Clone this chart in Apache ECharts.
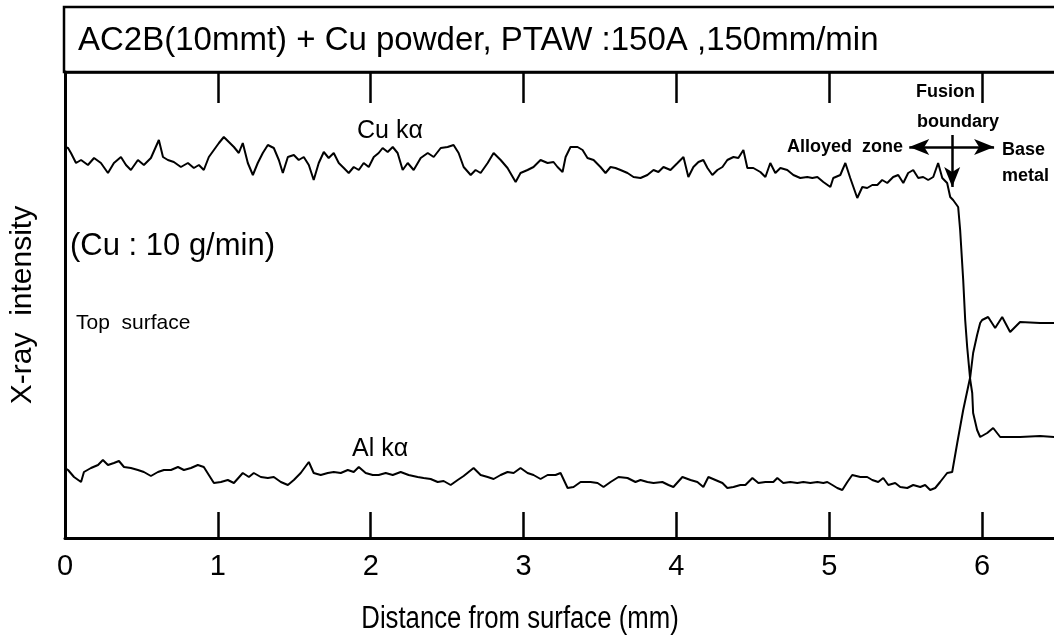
<!DOCTYPE html>
<html>
<head>
<meta charset="utf-8">
<style>
  html, body { margin: 0; padding: 0; background: #fff; }
  #chart { width: 1054px; height: 642px; }
</style>
<script src="https://cdn.jsdelivr.net/npm/echarts@6/dist/echarts.min.js"></script>
</head>
<body>
<div id="chart"></div>
<script>
// ---- data (distance in mm, X-ray intensity in arbitrary units) ----
const xTicks = [0, 1, 2, 3, 4, 5, 6];
const xMax = 6.47;
const yMax = 466;

const cuKa = [
  [0,391],[0.020,390],[0.039,385],[0.072,375],[0.105,378],[0.150,373],[0.190,380],[0.235,375],[0.281,365],[0.320,375],
  [0.366,381],[0.399,373],[0.431,368],[0.477,378],[0.516,373],[0.562,380],[0.614,398],[0.641,381],[0.673,378],[0.712,376],
  [0.758,371],[0.804,375],[0.843,370],[0.876,373],[0.908,368],[0.941,381],[0.974,388],[1.007,395],[1.039,401],[1.072,396],
  [1.105,391],[1.137,385],[1.163,395],[1.196,375],[1.229,363],[1.261,375],[1.294,385],[1.327,393],[1.366,390],[1.399,378],
  [1.425,365],[1.458,381],[1.497,383],[1.529,378],[1.562,381],[1.595,373],[1.627,358],[1.660,375],[1.693,386],[1.725,380],
  [1.758,385],[1.791,375],[1.824,370],[1.856,365],[1.889,371],[1.922,368],[1.954,375],[1.987,371],[2.020,381],[2.052,385],
  [2.078,390],[2.111,386],[2.144,391],[2.176,385],[2.209,368],[2.242,375],[2.281,368],[2.327,380],[2.373,385],[2.412,381],
  [2.458,390],[2.503,391],[2.542,393],[2.575,385],[2.608,371],[2.654,363],[2.686,368],[2.719,365],[2.765,375],[2.804,385],
  [2.850,378],[2.895,370],[2.948,356],[2.980,365],[3.026,368],[3.065,371],[3.111,378],[3.157,375],[3.196,376],[3.222,371],
  [3.255,366],[3.275,381],[3.307,391],[3.353,391],[3.386,388],[3.418,380],[3.458,378],[3.503,371],[3.536,365],[3.569,371],
  [3.601,370],[3.634,368],[3.680,365],[3.719,361],[3.765,360],[3.810,363],[3.850,368],[3.882,366],[3.915,371],[3.961,368],
  [4.007,375],[4.046,381],[4.078,361],[4.111,371],[4.144,376],[4.176,378],[4.203,370],[4.235,363],[4.268,368],[4.301,371],
  [4.333,378],[4.373,381],[4.405,380],[4.438,388],[4.464,370],[4.503,370],[4.549,366],[4.582,361],[4.614,375],[4.647,365],
  [4.680,370],[4.725,368],[4.765,363],[4.810,360],[4.856,361],[4.889,360],[4.922,361],[4.961,356],[5.007,351],[5.026,360],
  [5.072,363],[5.105,375],[5.137,360],[5.183,340],[5.216,351],[5.248,350],[5.281,353],[5.314,353],[5.346,358],[5.379,355],
  [5.418,361],[5.451,363],[5.484,355],[5.516,365],[5.549,368],[5.582,360],[5.614,361],[5.647,358],[5.680,361],[5.712,375],
  [5.739,360],[5.771,355],[5.791,341],[5.810,338],[5.843,331],[5.856,308],[5.876,258],[5.889,218],[5.902,191],[5.922,158],
  [5.935,145],[5.941,125],[5.967,108],[5.987,101],[6.033,105],[6.072,110],[6.118,101],[6.248,101],[6.379,102],[6.471,101]
];

const alKa = [
  [0,70],[0.020,68],[0.059,61],[0.105,56],[0.124,66],[0.170,70],[0.216,73],[0.248,78],[0.281,73],[0.320,75],
  [0.353,77],[0.386,71],[0.431,70],[0.477,68],[0.516,66],[0.562,62],[0.608,66],[0.647,68],[0.693,68],[0.739,71],
  [0.778,68],[0.824,70],[0.869,73],[0.908,71],[0.941,63],[0.974,55],[1.020,56],[1.065,58],[1.105,55],[1.163,65],
  [1.203,61],[1.235,65],[1.281,61],[1.327,60],[1.366,61],[1.412,56],[1.458,53],[1.497,58],[1.542,65],[1.595,76],
  [1.627,65],[1.673,63],[1.719,65],[1.758,66],[1.804,65],[1.850,68],[1.889,66],[1.922,71],[1.967,65],[2.013,63],
  [2.052,63],[2.098,65],[2.144,63],[2.196,66],[2.248,63],[2.307,61],[2.346,60],[2.392,59],[2.438,56],[2.477,57],
  [2.523,53],[2.569,58],[2.608,62],[2.673,70],[2.719,63],[2.765,61],[2.804,59],[2.850,63],[2.895,66],[2.935,65],
  [2.980,70],[3.026,65],[3.065,63],[3.111,59],[3.157,63],[3.209,63],[3.242,65],[3.288,50],[3.327,51],[3.373,56],
  [3.438,56],[3.484,55],[3.523,51],[3.569,56],[3.621,61],[3.680,60],[3.732,56],[3.765,58],[3.810,56],[3.850,55],
  [3.908,56],[3.948,53],[3.980,51],[4.039,61],[4.092,58],[4.137,56],[4.176,51],[4.209,61],[4.255,58],[4.301,55],
  [4.333,50],[4.373,51],[4.418,53],[4.451,53],[4.497,60],[4.536,55],[4.582,56],[4.634,56],[4.660,60],[4.699,55],
  [4.745,56],[4.791,55],[4.830,56],[4.876,55],[4.922,56],[4.961,55],[4.987,56],[5.020,53],[5.052,50],[5.085,48],
  [5.118,56],[5.150,63],[5.203,61],[5.248,61],[5.281,58],[5.320,56],[5.353,60],[5.386,53],[5.431,55],[5.464,51],
  [5.510,50],[5.549,53],[5.595,51],[5.627,53],[5.660,48],[5.693,50],[5.725,56],[5.771,65],[5.804,66],[5.837,95],
  [5.876,128],[5.908,151],[5.922,161],[5.941,185],[5.967,203],[5.987,215],[6.000,218],[6.039,221],[6.085,210],[6.131,221],
  [6.183,206],[6.248,216],[6.379,215],[6.471,215]
];

// annotation arrows (data coordinates)
const zoneArrow = { y: 391, from: 5.523, to: 6.078 };
const fusionArrow = { x: 5.804, from: 403, to: 351 };

const FONT = '"Liberation Sans", Arial, Helvetica, sans-serif';

const chart = echarts.init(document.getElementById('chart'), null, { renderer: 'canvas' });

function txt(text, x, y, size, opts) {
  opts = opts || {};
  return {
    type: 'text', x: x, y: y, silent: true, z: 10,
    scaleX: opts.scaleX || 1,
    style: {
      text: text, fill: '#000',
      font: (opts.weight || 'normal') + ' ' + size + 'px ' + FONT,
      align: opts.align || 'left', verticalAlign: 'middle'
    }
  };
}

const option = {
  animation: false,
  backgroundColor: '#fff',
  grid: { left: 64, right: 0, top: 72, bottom: 104, containLabel: false },
  xAxis: [
    {
      type: 'value', position: 'bottom', min: 0, max: xMax,
      axisLine: { show: true, onZero: false, lineStyle: { color: '#000', width: 3 } },
      axisTick: { show: true, inside: true, length: 26, customValues: xTicks, lineStyle: { color: '#000', width: 2.5 } },
      axisLabel: { show: true, customValues: xTicks, margin: 14, color: '#000', fontSize: 29, fontFamily: FONT },
      splitLine: { show: false }
    },
    {
      type: 'value', position: 'top', min: 0, max: xMax,
      axisLine: { show: true, onZero: false, lineStyle: { color: '#000', width: 2.5 } },
      axisTick: { show: true, inside: true, length: 31, customValues: xTicks, lineStyle: { color: '#000', width: 2.5 } },
      axisLabel: { show: false },
      splitLine: { show: false }
    }
  ],
  yAxis: {
    type: 'value', min: 0, max: yMax,
    name: 'X-ray  intensity', nameLocation: 'middle', nameGap: 27,
    nameTextStyle: { color: '#000', fontSize: 30, fontFamily: FONT },
    axisLine: { show: true, onZero: false, lineStyle: { color: '#000', width: 3 } },
    axisTick: { show: false },
    axisLabel: { show: false },
    splitLine: { show: false }
  },
  series: [
    {
      name: 'Cu kα', type: 'line', data: cuKa, showSymbol: false, silent: true,
      lineStyle: { color: '#000', width: 2 },
      markLine: {
        silent: true, symbol: ['arrow', 'arrow'], symbolSize: [12, 20],
        label: { show: false },
        lineStyle: { color: '#000', width: 2.5, type: 'solid' },
        data: [
          [{ coord: [zoneArrow.from, zoneArrow.y] }, { coord: [zoneArrow.to, zoneArrow.y] }],
          [{ coord: [fusionArrow.x, fusionArrow.from], symbol: 'none' }, { coord: [fusionArrow.x, fusionArrow.to] }]
        ]
      }
    },
    {
      name: 'Al kα', type: 'line', data: alKa, showSymbol: false, silent: true,
      lineStyle: { color: '#000', width: 2 }
    }
  ],
  graphic: [
    { type: 'rect', silent: true, shape: { x: 64, y: 7, width: 1010, height: 65 },
      style: { fill: 'none', stroke: '#000', lineWidth: 2.5 } },
    txt('AC2B(10mmt) + Cu powder, PTAW :150A ,150mm/min', 78, 41, 33),
    txt('Cu kα', 357, 131, 25),
    txt('Al kα', 352, 449, 25),
    txt('(Cu : 10 g/min)', 70, 246, 31),
    txt('Top  surface', 76, 323, 21),
    txt('Fusion', 916, 92, 18, { weight: 'bold' }),
    txt('boundary', 917, 122, 18, { weight: 'bold' }),
    txt('Alloyed  zone', 903, 147, 18, { weight: 'bold', align: 'right' }),
    txt('Base', 1002, 150, 18, { weight: 'bold' }),
    txt('metal', 1002, 176, 18, { weight: 'bold' }),
    txt('Distance from surface (mm)', 520, 619, 31, { align: 'center', scaleX: 0.83 })
  ]
};

chart.setOption(option);
</script>
</body>
</html>
